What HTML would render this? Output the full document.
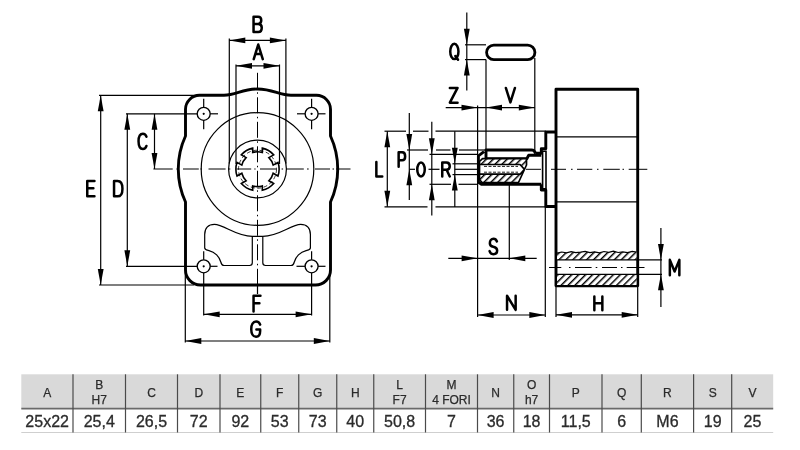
<!DOCTYPE html>
<html><head><meta charset="utf-8"><style>
html,body{margin:0;padding:0;background:#fff;}
body{width:800px;height:450px;overflow:hidden;}
svg{display:block;filter:grayscale(1);}
.k{fill:none;stroke:#000;stroke-width:2.9;stroke-linejoin:round;}
.m{fill:none;stroke:#000;stroke-width:1.6;}
.t{fill:none;stroke:#000;stroke-width:1.2;}
.c{fill:none;stroke:#000;stroke-width:1;stroke-dasharray:16 3.5 1.5 3.5;}
.ar{fill:#000;stroke:none;}
.lb{fill:none;stroke:#000;stroke-width:2.5;stroke-linecap:round;stroke-linejoin:round;}
.th{font-family:"Liberation Sans",sans-serif;font-size:12px;fill:#2b2b2b;stroke:#2b2b2b;stroke-width:0.25;text-anchor:middle;}
.td{font-family:"Liberation Sans",sans-serif;font-size:16px;fill:#2b2b2b;stroke:#2b2b2b;stroke-width:0.3;text-anchor:middle;}
</style></head><body>
<svg width="800" height="450" viewBox="0 0 800 450">
<defs><pattern id="hat" patternUnits="userSpaceOnUse" width="4.9" height="4.9" patternTransform="rotate(45)"><rect width="4.9" height="4.9" fill="#fff"/><rect x="0" y="0" width="1.45" height="4.9" fill="#000"/></pattern></defs>
<rect width="800" height="450" fill="#fff"/>
<path class="k" d="M199.5 95.3 L224 95.3 C236 95.3 242 89 257.5 89 C273 89 279 95.3 291 95.3 L316.5 95.3 A14 14 0 0 1 330.5 109.3 L330.5 136 A79 79 0 0 1 330.5 202 L330.5 270 A15 15 0 0 1 315.5 285 L200.5 285 A15 15 0 0 1 185.5 270 L185.5 202 A79 79 0 0 1 185.5 136 L185.5 109.3 A14 14 0 0 1 199.5 95.3 Z"/>
<circle class="t" cx="257.5" cy="169.0" r="56.3"/>
<circle class="t" cx="257.5" cy="169.0" r="28.9"/>
<circle class="t" cx="203.7" cy="113.8" r="6.5" style="stroke-width:1.35"/>
<circle cx="203.7" cy="113.8" r="1.1" fill="#000"/>
<circle class="t" cx="203.7" cy="266.3" r="6.5" style="stroke-width:1.35"/>
<circle cx="203.7" cy="266.3" r="1.1" fill="#000"/>
<circle class="t" cx="311.6" cy="113.8" r="6.5" style="stroke-width:1.35"/>
<circle cx="311.6" cy="113.8" r="1.1" fill="#000"/>
<circle class="t" cx="311.6" cy="266.3" r="6.5" style="stroke-width:1.35"/>
<circle cx="311.6" cy="266.3" r="1.1" fill="#000"/>
<path class="t" d="M203.7 98.7L203.7 107.3"/>
<path class="t" d="M203.7 120.3L203.7 129.3"/>
<path class="t" d="M311.6 98.7L311.6 107.3"/>
<path class="t" d="M311.6 120.3L311.6 129.3"/>
<path class="t" d="M126 113.8L197.2 113.8"/>
<path class="t" d="M210.2 113.8L218 113.8"/>
<path class="t" d="M297 113.8L305.1 113.8"/>
<path class="t" d="M318.1 113.8L325.5 113.8"/>
<path class="t" d="M126 266.3L197.2 266.3"/>
<path class="t" d="M210.2 266.3L217.5 266.3"/>
<path class="t" d="M296.5 266.3L305.1 266.3"/>
<path class="t" d="M318.1 266.3L325.5 266.3"/>
<path class="t" d="M203.7 251.3L203.7 259.8"/>
<path class="t" d="M203.7 272.8L203.7 315.5"/>
<path class="t" d="M311.6 251.3L311.6 259.8"/>
<path class="t" d="M311.6 272.8L311.6 315.5"/>
<path class="m" d="M252.7 148.14L252.7 152.48A17.4 17.4 0 0 1 262.3 152.48L262.3 148.14A21.6 21.6 0 0 1 273.68 154.89L268.88 157.67A16.2 16.2 0 0 1 273.18 165.11L277.98 162.34A21.6 21.6 0 0 1 277.98 176.06L273.18 173.29A16.2 16.2 0 0 1 268.88 180.73L273.68 183.51A21.6 21.6 0 0 1 262.3 190.26L262.3 185.92A17.4 17.4 0 0 1 252.7 185.92L252.7 190.26A21.6 21.6 0 0 1 241.32 183.51L246.12 180.73A16.2 16.2 0 0 1 241.82 173.29L237.02 176.06A21.6 21.6 0 0 1 237.02 162.34L241.82 165.11A16.2 16.2 0 0 1 246.12 157.67L241.32 154.89A21.6 21.6 0 0 1 252.7 148.14Z"/>
<circle cx="257.5" cy="169.2" r="19" fill="none" stroke="#000" stroke-width="0.8" stroke-dasharray="4 2.5"/>
<path class="t" d="M252.3 236.3 L252.3 262.8 Q252.3 265.5 249.6 265.5 L224 265.5 C222 265.5 221.3 264 220.8 262 C219.5 257 215 252 209 250.6 C206 250 204.7 250 204.7 247.8 L204.7 234.5 C204.7 228 208.5 224.4 214.4 224.4 C224 224.4 236 236.3 252.3 236.3 L257.55 236.3 M 262.8 236.3 L 262.8 262.8 Q 262.8 265.5 265.5 265.5 L 291.1 265.5 C 293.1 265.5 293.8 264 294.3 262 C 295.6 257 300.1 252 306.1 250.6 C 309.1 250 310.4 250 310.4 247.8 L 310.4 234.5 C 310.4 228 306.6 224.4 300.7 224.4 C 291.1 224.4 279.1 236.3 262.8 236.3 L 257.55 236.3"/>
<path class="t" d="M229.3 38.5L229.3 163.5"/>
<path class="t" d="M285.9 38.5L285.9 163.5"/>
<path class="t" d="M236 64.5L236 164"/>
<path class="t" d="M279.5 64.5L279.5 164"/>
<path class="t" d="M229.3 40.4L285.9 40.4"/>
<path class="ar" d="M229.3 40.4L245.3 37.5L245.3 43.3Z"/>
<path class="ar" d="M285.9 40.4L269.9 43.3L269.9 37.5Z"/>
<path class="t" d="M236 65.8L279.5 65.8"/>
<path class="ar" d="M236 65.8L252 62.9L252 68.7Z"/>
<path class="ar" d="M279.5 65.8L263.5 68.7L263.5 62.9Z"/>
<path class="c" d="M257.5 72.8 L257.5 285"/>
<path class="t" d="M257.5 284L257.5 294"/>
<path d="M153.4 169.0H172.7" stroke="#000" stroke-width="1"/>
<path d="M176.5 169.0H178" stroke="#000" stroke-width="1"/>
<path d="M183 169.0H198.8" stroke="#000" stroke-width="1"/>
<path d="M200.5 169.0H202" stroke="#000" stroke-width="1"/>
<path d="M208.5 169.0H225.6" stroke="#000" stroke-width="1"/>
<path d="M228.8 169.0H230.3" stroke="#000" stroke-width="1"/>
<path d="M236.4 169.0H251.2" stroke="#000" stroke-width="1"/>
<path d="M254.3 169.0H255.6" stroke="#000" stroke-width="1"/>
<path d="M260 169.0H276.6" stroke="#000" stroke-width="1"/>
<path d="M281.6 169.0H283.1" stroke="#000" stroke-width="1"/>
<path d="M286.2 169.0H303.8" stroke="#000" stroke-width="1"/>
<path d="M307 169.0H308.7" stroke="#000" stroke-width="1"/>
<path d="M315 169.0H330" stroke="#000" stroke-width="1"/>
<path d="M332.5 169.0H334" stroke="#000" stroke-width="1"/>
<path d="M336 169.0H350.5" stroke="#000" stroke-width="1"/>
<path class="t" d="M99 95.3L198 95.3"/>
<path class="t" d="M99 285L194 285"/>
<path class="t" d="M100.7 95.3L100.7 285"/>
<path class="ar" d="M100.7 95.3L103.6 111.3L97.8 111.3Z"/>
<path class="ar" d="M100.7 285L97.8 269L103.6 269Z"/>
<path class="t" d="M127.3 113.8L127.3 266.3"/>
<path class="ar" d="M127.3 113.8L130.2 129.8L124.4 129.8Z"/>
<path class="ar" d="M127.3 266.3L124.4 250.3L130.2 250.3Z"/>
<path class="t" d="M154.5 113.8L154.5 169"/>
<path class="ar" d="M154.5 113.8L157.4 129.8L151.6 129.8Z"/>
<path class="ar" d="M154.5 169L151.6 153L157.4 153Z"/>
<path class="t" d="M203.7 314.3L311.6 314.3"/>
<path class="ar" d="M203.7 314.3L219.7 311.4L219.7 317.2Z"/>
<path class="ar" d="M311.6 314.3L295.6 317.2L295.6 311.4Z"/>
<path class="t" d="M185.3 270L185.3 342.5"/>
<path class="t" d="M329.8 270L329.8 342.5"/>
<path class="t" d="M185.3 341L329.8 341"/>
<path class="ar" d="M185.3 341L201.3 338.1L201.3 343.9Z"/>
<path class="ar" d="M329.8 341L313.8 343.9L313.8 338.1Z"/>
<rect class="k" x="486.6" y="45.1" width="48.3" height="14.5" rx="7.2" style="stroke-width:2.8"/>
<path class="t" d="M466.8 12.5L466.8 90.5"/>
<path class="ar" d="M466.8 44.8L463.9 28.8L469.7 28.8Z"/>
<path class="ar" d="M466.8 59.6L469.7 75.6L463.9 75.6Z"/>
<path class="t" d="M465 44.8L486 44.8"/>
<path class="t" d="M465 59.6L486 59.6"/>
<path class="t" d="M486 59.6L486 150"/>
<path class="t" d="M534.8 58L534.8 150"/>
<path class="t" d="M445.7 107.6L534.8 107.6"/>
<path class="ar" d="M477.5 107.6L461.5 110.5L461.5 104.7Z"/>
<path class="ar" d="M486 107.6L502 104.7L502 110.5Z"/>
<path class="ar" d="M534.8 107.6L518.8 110.5L518.8 104.7Z"/>
<path class="t" d="M477.6 105.5L477.6 317"/>
<rect class="k" x="556" y="89.3" width="81.7" height="196.4"/>
<path class="t" d="M556 136.8L637.7 136.8"/>
<path class="t" d="M556 201.9L637.7 201.9"/>
<path class="k" d="M556 132 L545.8 132 L545.8 148.7 L541.3 148.7 L541.3 153.3 L536 153.3 M541.3 184.3 L541.3 190 L545.8 190 L545.8 206.5 L556 206.5"/>
<path class="m" d="M542.6 151.3 L546 151.3 L546 188.7 L542.6 188.7 Z"/>
<path class="k" d="M486 158.7 L486 150 L531.5 150 Q534.5 150 535 152.5 L536 153.3 M484 151.6 L478.4 155.8 L478.4 182.2 L481.5 184.3 L541.3 184.3"/>
<path class="k" d="M486 158.7 L526.8 158.7 L528.7 155.3 L541.3 155.3"/>
<path fill="url(#hat)" fill-rule="evenodd" stroke="#000" stroke-width="1.7" stroke-linejoin="round" d="M479.5 161.5 L482.5 158.6 L526.5 158.6 L526.5 165 L518.5 182.5 L482 182.5 L479.5 179.5 Z M479.5 164.5 L520 164.5 L524.5 169.3 L520 174.2 L479.5 174.2 Z"/>
<path fill="none" stroke="#000" stroke-width="0.9" stroke-dasharray="3 1.5" d="M484 166.4 L518 166.4 M484 172.2 L518 172.2"/>
<path d="M526 169.3H541" stroke="#000" stroke-width="1"/>
<path d="M551 169.3H566" stroke="#000" stroke-width="1"/>
<path d="M571 169.3H572.6" stroke="#000" stroke-width="1"/>
<path d="M577 169.3H592.3" stroke="#000" stroke-width="1"/>
<path d="M597 169.3H598.5" stroke="#000" stroke-width="1"/>
<path d="M603.3 169.3H619.8" stroke="#000" stroke-width="1"/>
<path d="M622.5 169.3H624" stroke="#000" stroke-width="1"/>
<path d="M628.7 169.3H647.3" stroke="#000" stroke-width="1"/>
<path class="t" d="M409.3 169.3L415 169.3"/>
<path class="t" d="M428.5 169.3L439.5 169.3"/>
<path class="t" d="M454.8 169.3L478 169.3"/>
<path class="t" d="M384.5 131.2L406 131.2"/>
<path class="t" d="M413 131.2L428.5 131.2"/>
<path class="t" d="M435.5 131.2L545.8 131.2"/>
<path class="t" d="M384.5 206.8L427.5 206.8"/>
<path class="t" d="M435.5 206.8L545.8 206.8"/>
<path class="t" d="M387.3 131.2L387.3 206.8"/>
<path class="ar" d="M387.3 131.2L390.2 147.2L384.4 147.2Z"/>
<path class="ar" d="M387.3 206.8L384.4 190.8L390.2 190.8Z"/>
<path class="t" d="M409.3 113L409.3 200"/>
<path class="ar" d="M409.3 150L406.4 134L412.2 134Z"/>
<path class="ar" d="M409.3 169.3L412.2 185.3L406.4 185.3Z"/>
<path class="t" d="M407 150L428 150"/>
<path class="t" d="M436 150L450.5 150"/>
<path class="t" d="M459 150L486 150"/>
<path class="t" d="M431.8 121.7L431.8 215.6"/>
<path class="ar" d="M431.8 154.3L428.9 138.3L434.7 138.3Z"/>
<path class="ar" d="M431.8 184.3L434.7 200.3L428.9 200.3Z"/>
<path class="t" d="M429.5 154.3L478 154.3"/>
<path class="t" d="M429.5 184.3L451 184.3"/>
<path class="t" d="M458.5 184.3L478 184.3"/>
<path class="t" d="M454.8 131.2L454.8 207"/>
<path class="ar" d="M454.8 163.8L451.9 147.8L457.7 147.8Z"/>
<path class="ar" d="M454.8 174.6L457.7 190.6L451.9 190.6Z"/>
<path class="t" d="M452.5 163.8L480 163.8"/>
<path class="t" d="M452.5 174.6L480 174.6"/>
<path class="t" d="M509.3 184.3L509.3 260"/>
<path class="t" d="M448.3 258.3L536.7 258.3"/>
<path class="ar" d="M477.6 258.3L461.6 261.2L461.6 255.4Z"/>
<path class="ar" d="M509.3 258.3L525.3 255.4L525.3 261.2Z"/>
<path class="t" d="M545.3 206.5L545.3 317"/>
<path class="t" d="M477.6 315L545.3 315"/>
<path class="ar" d="M477.6 315L493.6 312.1L493.6 317.9Z"/>
<path class="ar" d="M545.3 315L529.3 317.9L529.3 312.1Z"/>
<path class="t" d="M556 285.7L556 317"/>
<path class="t" d="M637.7 285.7L637.7 317"/>
<path class="t" d="M556 314.8L637.7 314.8"/>
<path class="ar" d="M556 314.8L572 311.9L572 317.7Z"/>
<path class="ar" d="M637.7 314.8L621.7 317.7L621.7 311.9Z"/>
<path fill="url(#hat)" stroke="none" d="M557.0 253.2 L561.7 252.0 L566.4 252.8 L571.1 251.6 L575.8 252.6 L580.5 252.2 L585.2 251.4 L589.9 252.6 L594.6 251.8 L599.3 252.9 L604.0 251.5 L608.7 252.3 L613.4 251.2 L618.1 252.5 L622.8 251.9 L627.5 252.7 L632.2 251.3 L636.5 252 L636.5 259.9 L557 259.9 Z"/>
<path class="t" d="M557.0 253.2 L561.7 252.0 L566.4 252.8 L571.1 251.6 L575.8 252.6 L580.5 252.2 L585.2 251.4 L589.9 252.6 L594.6 251.8 L599.3 252.9 L604.0 251.5 L608.7 252.3 L613.4 251.2 L618.1 252.5 L622.8 251.9 L627.5 252.7 L632.2 251.3 L636.5 252"/>
<path fill="url(#hat)" stroke="none" d="M557 274.6 L636.5 274.6 L636.5 285 L557 285 Z"/>
<path class="t" d="M556 259.9L662 259.9"/>
<path class="t" d="M556 274.3L662 274.3"/>
<path d="M549 267.5H561.3" stroke="#000" stroke-width="1"/>
<path d="M569 267.5H570.5" stroke="#000" stroke-width="1"/>
<path d="M575 267.5H591.6" stroke="#000" stroke-width="1"/>
<path d="M595.7 267.5H597.3" stroke="#000" stroke-width="1"/>
<path d="M602 267.5H617" stroke="#000" stroke-width="1"/>
<path d="M621 267.5H622.5" stroke="#000" stroke-width="1"/>
<path d="M626.7 267.5H644.5" stroke="#000" stroke-width="1"/>
<path class="t" d="M660.9 228L660.9 307"/>
<path class="ar" d="M660.9 259.9L658 243.9L663.8 243.9Z"/>
<path class="ar" d="M660.9 274.3L663.8 290.3L658 290.3Z"/>
<path class="lb" d="M 253.55 16.65 L 253.55 32.05 L 258.31 32.05 C 260.77 32.05 261.75 29.89 261.75 27.74 C 261.75 25.58 260.77 23.89 258.31 23.89 L 253.55 23.89 M 258.06 23.89 C 260.27 23.89 261.26 22.19 261.26 20.27 C 261.26 18.19 260.27 16.65 258.06 16.65 L 253.55 16.65"/>
<path class="lb" d="M 253.75 59.15 L 258.25 44.55 L 262.75 59.15 M 255.55 53.89 L 260.95 53.89"/>
<path class="lb" d="M 146.45 136.73 C 145.82 134.73 144.47 133.65 142.9 133.65 C 140.13 133.65 138.55 137.04 138.55 141.35 C 138.55 145.66 140.13 149.05 142.9 149.05 C 144.47 149.05 145.82 147.97 146.45 145.97"/>
<path class="lb" d="M 94.45 180.95 L 87.25 180.95 L 87.25 196.35 L 94.45 196.35 M 87.25 188.34 L 93.37 188.34"/>
<path class="lb" d="M 114.05 180.95 L 114.05 196.35 L 117.58 196.35 C 120.94 196.35 122.45 192.96 122.45 188.65 C 122.45 184.34 120.94 180.95 117.58 180.95 Z"/>
<path class="lb" d="M 260.45 295.85 L 253.55 295.85 L 253.55 311.45 M 253.55 303.34 L 259.41 303.34"/>
<path class="lb" d="M 260.15 324.59 C 259.44 322.61 257.92 321.55 256.14 321.55 C 253.03 321.55 251.25 324.89 251.25 329.15 C 251.25 333.41 253.03 336.75 256.14 336.75 C 258.55 336.75 260.15 334.47 260.15 330.97 L 260.15 329.61 L 256.41 329.61"/>
<path class="lb" d="M 454.35 43.85 C 456.65 43.85 458.45 47.19 458.45 51.45 C 458.45 55.71 456.65 59.05 454.35 59.05 C 452.05 59.05 450.25 55.71 450.25 51.45 C 450.25 47.19 452.05 43.85 454.35 43.85 Z M 455.33 56.01 L 458.04 59.66"/>
<path class="lb" d="M 449.85 87.95 L 457.55 87.95 L 449.85 102.65 L 457.55 102.65"/>
<path class="lb" d="M 505.85 87.95 L 510.4 102.35 L 514.95 87.95"/>
<path class="lb" d="M 376.35 161.95 L 376.35 176.45 L 382.25 176.45"/>
<path class="lb" d="M 398.65 166.85 L 398.65 152.35 L 402.22 152.35 C 404.17 152.35 405.15 154.23 405.15 156.41 C 405.15 158.59 404.17 160.32 402.22 160.32 L 398.65 160.32"/>
<path class="lb" d="M 421 162.55 C 423.1 162.55 424.75 165.61 424.75 169.5 C 424.75 173.39 423.1 176.45 421 176.45 C 418.9 176.45 417.25 173.39 417.25 169.5 C 417.25 165.61 418.9 162.55 421 162.55 Z"/>
<path class="lb" d="M 442.25 176.45 L 442.25 162.55 L 446.38 162.55 C 448.62 162.55 449.75 164.22 449.75 166.3 C 449.75 168.39 448.62 169.78 446.38 169.78 L 442.25 169.78 M 446.6 169.78 L 449.75 176.45"/>
<path class="lb" d="M 496.92 241.45 C 496.24 239.62 495.02 238.85 493.5 238.85 C 491.22 238.85 489.85 240.84 489.85 243.13 C 489.85 245.74 491.45 246.35 493.35 246.81 C 495.48 247.26 497.15 248.03 497.15 250.48 C 497.15 252.93 495.63 254.15 493.35 254.15 C 491.6 254.15 490.31 253.23 489.55 251.09"/>
<path class="lb" d="M 507.05 309.85 L 507.05 295.75 L 515.65 309.85 L 515.65 295.75"/>
<path class="lb" d="M 594.35 296.45 L 594.35 310.15 M 602.35 296.45 L 602.35 310.15 M 594.35 303.16 L 602.35 303.16"/>
<path class="lb" d="M 669.85 275.25 L 669.85 259.85 L 674.6 271.55 L 679.35 259.85 L 679.35 275.25"/>
<rect x="21.3" y="374.3" width="751.9" height="34.3" fill="#d9d9db"/>
<path d="M21.3 408.6H773.2" stroke="#6a6a6a" stroke-width="1.6"/>
<path d="M21.3 432.5H773.2" stroke="#cfcfcf" stroke-width="1"/>
<path d="M73 374.3V432.5" stroke="#4a4a4a" stroke-width="1.2"/>
<path d="M125.5 374.3V432.5" stroke="#4a4a4a" stroke-width="1.2"/>
<path d="M177.5 374.3V432.5" stroke="#4a4a4a" stroke-width="1.2"/>
<path d="M220 374.3V432.5" stroke="#4a4a4a" stroke-width="1.2"/>
<path d="M260.75 374.3V432.5" stroke="#4a4a4a" stroke-width="1.2"/>
<path d="M298.75 374.3V432.5" stroke="#4a4a4a" stroke-width="1.2"/>
<path d="M336.75 374.3V432.5" stroke="#4a4a4a" stroke-width="1.2"/>
<path d="M373.75 374.3V432.5" stroke="#4a4a4a" stroke-width="1.2"/>
<path d="M425.5 374.3V432.5" stroke="#4a4a4a" stroke-width="1.2"/>
<path d="M477.5 374.3V432.5" stroke="#4a4a4a" stroke-width="1.2"/>
<path d="M513.75 374.3V432.5" stroke="#4a4a4a" stroke-width="1.2"/>
<path d="M549.5 374.3V432.5" stroke="#4a4a4a" stroke-width="1.2"/>
<path d="M602 374.3V432.5" stroke="#4a4a4a" stroke-width="1.2"/>
<path d="M641.3 374.3V432.5" stroke="#4a4a4a" stroke-width="1.2"/>
<path d="M693.6 374.3V432.5" stroke="#4a4a4a" stroke-width="1.2"/>
<path d="M731.7 374.3V432.5" stroke="#4a4a4a" stroke-width="1.2"/>
<text class="th" x="47.15" y="396.5">A</text>
<text class="td" x="47.15" y="426.5">25x22</text>
<text class="th" x="99.25" y="388.7">B</text>
<text class="th" x="99.25" y="403.5">H7</text>
<text class="td" x="99.25" y="426.5">25,4</text>
<text class="th" x="151.5" y="396.5">C</text>
<text class="td" x="151.5" y="426.5">26,5</text>
<text class="th" x="198.75" y="396.5">D</text>
<text class="td" x="198.75" y="426.5">72</text>
<text class="th" x="240.38" y="396.5">E</text>
<text class="td" x="240.38" y="426.5">92</text>
<text class="th" x="279.75" y="396.5">F</text>
<text class="td" x="279.75" y="426.5">53</text>
<text class="th" x="317.75" y="396.5">G</text>
<text class="td" x="317.75" y="426.5">73</text>
<text class="th" x="355.25" y="396.5">H</text>
<text class="td" x="355.25" y="426.5">40</text>
<text class="th" x="399.62" y="388.7">L</text>
<text class="th" x="399.62" y="403.5">F7</text>
<text class="td" x="399.62" y="426.5">50,8</text>
<text class="th" x="451.5" y="388.7">M</text>
<text class="th" x="451.5" y="403.5">4 FORI</text>
<text class="td" x="451.5" y="426.5">7</text>
<text class="th" x="495.62" y="396.5">N</text>
<text class="td" x="495.62" y="426.5">36</text>
<text class="th" x="531.62" y="388.7">O</text>
<text class="th" x="531.62" y="403.5">h7</text>
<text class="td" x="531.62" y="426.5">18</text>
<text class="th" x="575.75" y="396.5">P</text>
<text class="td" x="575.75" y="426.5">11,5</text>
<text class="th" x="621.65" y="396.5">Q</text>
<text class="td" x="621.65" y="426.5">6</text>
<text class="th" x="667.45" y="396.5">R</text>
<text class="td" x="667.45" y="426.5">M6</text>
<text class="th" x="712.65" y="396.5">S</text>
<text class="td" x="712.65" y="426.5">19</text>
<text class="th" x="752.45" y="396.5">V</text>
<text class="td" x="752.45" y="426.5">25</text>
</svg>
</body></html>
